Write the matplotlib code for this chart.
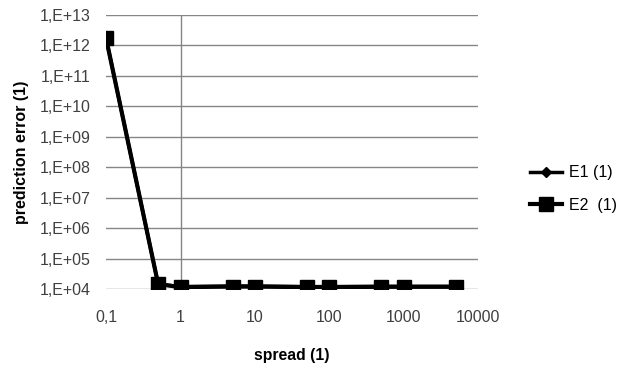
import matplotlib.pyplot as plt
import matplotlib.ticker as mticker

# spread values and prediction errors
spread = [0.1, 0.5, 1, 5, 10, 50, 100, 500, 1000, 5000]
e1 = [1.7e12, 1.45e4, 1.2e4, 1.25e4, 1.25e4, 1.2e4, 1.2e4, 1.22e4, 1.22e4, 1.22e4]
e2 = [1.7e12, 1.45e4, 1.15e4, 1.2e4, 1.2e4, 1.15e4, 1.15e4, 1.18e4, 1.18e4, 1.18e4]

x_ticks = [0.1, 1, 10, 100, 1000, 10000]
x_labels = ['0,1', '1', '10', '100', '1000', '10000']
y_ticks = [10.0 ** k for k in range(4, 14)]
y_labels = ['1,E+%02d' % k for k in range(4, 14)]

plt.rcParams['font.family'] = ['Liberation Sans', 'DejaVu Sans']

fig = plt.figure(figsize=(6.17, 3.67), dpi=100)
ax = fig.add_axes([0.172, 0.2125, 0.603, 0.7465])

ax.plot(spread, e1, color='black', lw=2.5, marker='D', ms=5, label='E1 (1)', zorder=3)
ax.plot(spread, e2, color='black', lw=3, marker='s', ms=10, label='E2  (1)', zorder=4)

ax.set_xscale('log')
ax.set_yscale('log')
ax.set_xlim(0.1, 10000)
ax.set_ylim(1e4, 1e13)

ax.xaxis.set_major_locator(mticker.FixedLocator(x_ticks))
ax.xaxis.set_major_formatter(mticker.FixedFormatter(x_labels))
ax.xaxis.set_minor_locator(mticker.NullLocator())
ax.yaxis.set_major_locator(mticker.FixedLocator(y_ticks))
ax.yaxis.set_major_formatter(mticker.FixedFormatter(y_labels))
ax.yaxis.set_minor_locator(mticker.NullLocator())

# horizontal gridlines and the single vertical line at 1
for y in y_ticks:
    ax.axhline(y, color='#868686', lw=1, zorder=1)
ax.axvline(1, color='#868686', lw=1, zorder=1)

for s in ax.spines.values():
    s.set_visible(False)
ax.tick_params(axis='y', length=0, labelsize=11.5, labelcolor='#404040', pad=11)
ax.tick_params(axis='x', length=0, labelsize=11.5, labelcolor='#404040', pad=15)

ax.set_xlabel('spread (1)', fontsize=11.3, fontweight='bold', labelpad=17)
ax.set_ylabel('prediction error (1)', fontsize=11.5, fontweight='bold', labelpad=8)

ax.legend(loc='center left', bbox_to_anchor=(1.1, 0.365), frameon=False,
          fontsize=11.5, handlelength=2.0, labelspacing=1.1, handletextpad=0.45)

fig.savefig('out.png', dpi=100)
